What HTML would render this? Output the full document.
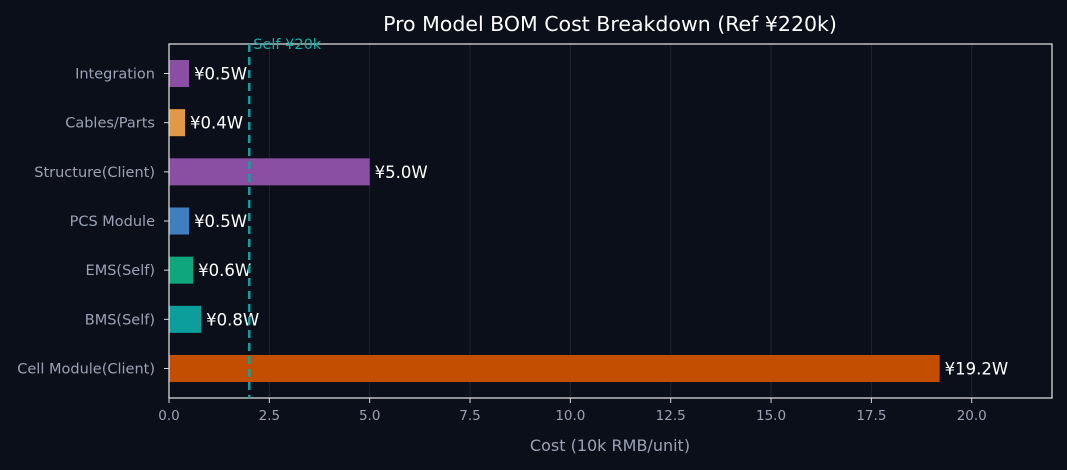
<!DOCTYPE html>
<html><head><meta charset="utf-8"><style>
body{margin:0;background:#0b0f19;}
svg{display:block;font-family:"DejaVu Sans","Liberation Sans",sans-serif;}
</style></head><body>
<svg id="chart" width="1067" height="470">
<rect width="1067" height="470" fill="#0b0f19"/>
<text x="610" y="31" fill="#ffffff" font-size="20.5" text-anchor="middle">Pro Model BOM Cost Breakdown (Ref ¥220k)</text>
<g id="grid"></g><g id="bars"></g><g id="axes"></g>
<text x="610" y="451" fill="#9aa3b5" font-size="16" text-anchor="middle">Cost (10k RMB/unit)</text>
</svg>
<script>
const categories=["Cell Module(Client)","BMS(Self)","EMS(Self)","PCS Module","Structure(Client)","Cables/Parts","Integration"];
const values=[19.2,0.8,0.6,0.5,5.0,0.4,0.5];
const colors=["#c44e00","#0c9e9a","#10a67c","#3f7fc0","#8a4fa3","#e09a45","#8a4fa3"];
const xTicks=[0,2.5,5,7.5,10,12.5,15,17.5,20];
const refValue=2;
const L=169,R=1052,T=44,B=398,XMAX=22;
const NS="http://www.w3.org/2000/svg";
const xs=v=>L+v/XMAX*(R-L);
const ys=i=>B-(i+0.6)/7.2*(B-T);
const bw=0.55/7.2*(B-T);
function mk(tag,attrs,parent,txt){const e=document.createElementNS(NS,tag);for(const k in attrs)e.setAttribute(k,attrs[k]);if(txt!==undefined)e.textContent=txt;document.getElementById(parent).appendChild(e);return e;}
xTicks.forEach(t=>{
  const g=mk('line',{x1:xs(t),x2:xs(t),y1:T,y2:B,stroke:'#1f242e','stroke-width':1},'grid');
  
  
  const tk=mk('line',{x1:xs(t),x2:xs(t),y1:B,y2:B+5,stroke:'#d8d8d8'},'axes');
  
  
  const lb=mk('text',{x:xs(t),y:B+22,fill:'#9aa3b5','font-size':13.5,'text-anchor':'middle'},'axes',t.toFixed(1));
  
  
});
categories.forEach((c,i)=>{
  const y=ys(i);
  const r=mk('rect',{x:L,y:y-bw/2,width:xs(values[i])-L,height:bw,fill:colors[i]},'bars');
  
  
  const v=mk('text',{x:xs(values[i])+5,y:y+6,fill:'#ffffff','font-size':16.5},'bars','¥'+values[i].toFixed(1)+'W');
  
  
  const tk=mk('line',{x1:L-5,x2:L,y1:y,y2:y,stroke:'#d8d8d8'},'axes');
  
  
  const lb=mk('text',{x:L-14,y:y+5,fill:'#9aa3b5','font-size':14.5,'text-anchor':'end'},'axes',c);
  
  
});
const fr=mk('rect',{x:L,y:T,width:R-L,height:B-T,fill:'none',stroke:'#d8d8d8','stroke-width':1.3},'axes');


const rl=mk('line',{x1:xs(refValue),x2:xs(refValue),y1:T,y2:B,stroke:'#13a0a0','stroke-width':2.5,'stroke-dasharray':'8,5'},'axes');


const rt=mk('text',{x:xs(refValue)+4,y:T+5,fill:'#13b0a8','font-size':14.5},'axes','Self ¥20k');


</script>
</body></html>
